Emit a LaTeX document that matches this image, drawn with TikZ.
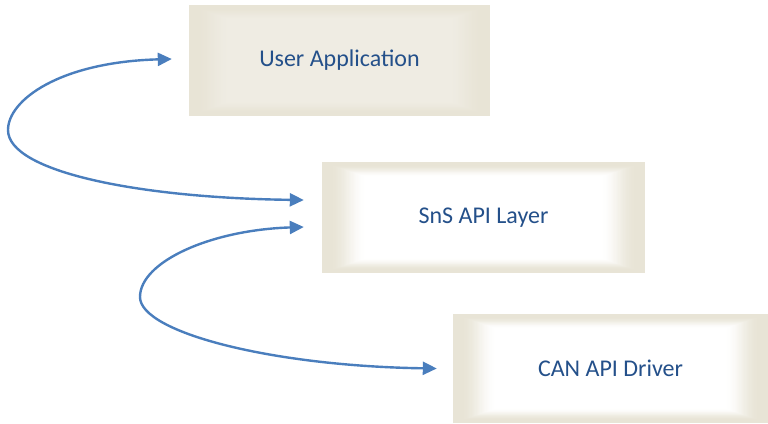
\documentclass[tikz,border=0pt]{standalone}
\usepackage{fontspec}
\setmainfont{Carlito}
\usetikzlibrary{calc,arrows.meta,backgrounds}

\definecolor{boxedge}{HTML}{E8E4D6}
\definecolor{boxtext}{HTML}{24508A}
\definecolor{linkblue}{HTML}{4A7EBD}
\definecolor{paleback}{HTML}{EFECE3}

\tikzset{
  layerbox/.style={minimum width=#1, inner sep=0pt, minimum height=111pt,
    text=boxtext, font=\fontsize{24}{28}\selectfont},
  link/.style={draw=linkblue, line width=2.4pt,
    {Triangle[length=14pt,width=13pt]}-{Triangle[length=14pt,width=13pt]}},
}

% rectangular gradient: beige rim fading smoothly towards the middle colour
\newcommand\shadelayer[2]{%
  \begin{scope}[on background layer]
    \foreach \i in {0,...,60}{
      \pgfmathsetmacro\t{\i/60*0.95}
      \pgfmathsetmacro\s{max(0,min(1,(\t-0.1)/0.45))}
      \pgfmathsetmacro\p{100*(1-(3*\s^2-2*\s^3))}
      \fill[boxedge!\p!#2]
        ($(#1.south west)!\t*0.5!(#1.center)$) rectangle
        ($(#1.north east)!\t*0.5!(#1.center)$);
    }
  \end{scope}}

\begin{document}
\begin{tikzpicture}[x=1pt,y=-1pt]
  \useasboundingbox (0,0) rectangle (768,423);

  \node[layerbox=301pt] (app) at (339.5,60.5) {User Application};
  \node[layerbox=323pt] (sns) at (483.5,217.5) {SnS API Layer};
  \node[layerbox=315pt, minimum height=109pt] (can) at (610.5,368.5) {CAN API Driver};

  \shadelayer{app}{paleback}
  \shadelayer{sns}{white}
  \shadelayer{can}{white}

  % free ends of the two double-headed links
  \coordinate (appin) at ($(app.west)+(-17,-1.5)$);
  \coordinate (snsup) at ($(sns.west)+(-18,-17.5)$);
  \coordinate (snsdn) at ($(sns.west)+(-18,9.5)$);
  \coordinate (canin) at ($(can.west)+(-16,0)$);

  \draw[link] (appin) .. controls (60,62) and (8,100) .. (8,130)
    .. controls (8,172) and (140,198) .. (snsup);
  \draw[link] (snsdn) .. controls (210,230) and (140,262) .. (140,297)
    .. controls (140,332) and (270,366) .. (canin);
\end{tikzpicture}
\end{document}
